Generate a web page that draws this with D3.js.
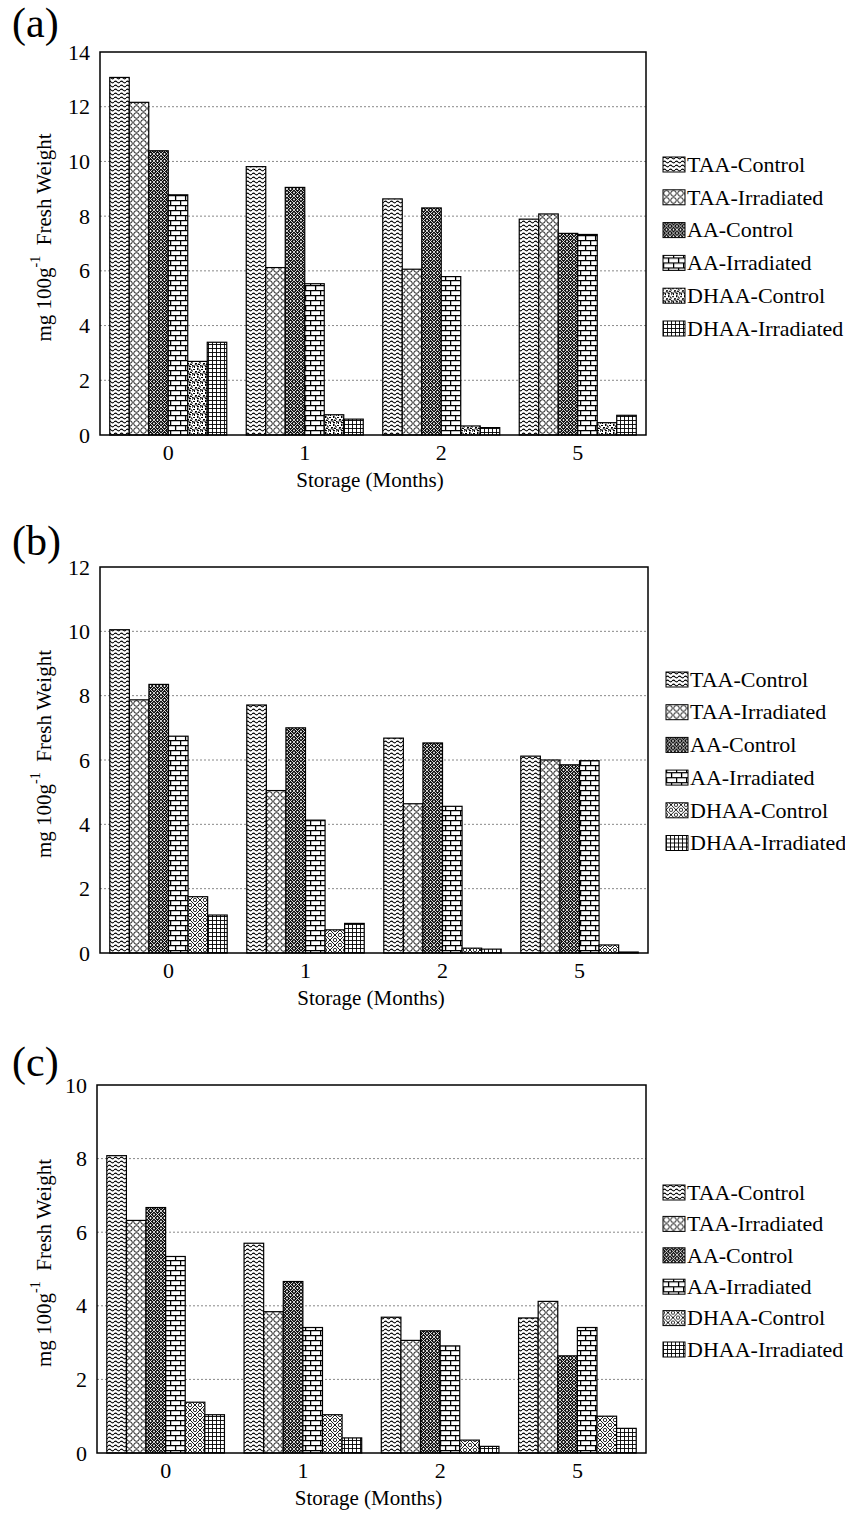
<!DOCTYPE html>
<html>
<head>
<meta charset="utf-8">
<script src="https://cdn.jsdelivr.net/npm/d3@7"></script>
<style>
  body { margin: 0; background: #fff; }
  svg text { font-family: "Liberation Serif", "Times New Roman", serif; fill: #000; }
</style>
</head>
<body>
<script>
// categories and series
const months = ["0", "1", "2", "5"];
const seriesNames = ["TAA-Control", "TAA-Irradiated", "AA-Control", "AA-Irradiated", "DHAA-Control", "DHAA-Irradiated"];

// tick labels of each panel
const ticksA = [0, 2, 4, 6, 8, 10, 12, 14];
const ticksB = [0, 2, 4, 6, 8, 10, 12];
const ticksC = [0, 2, 4, 6, 8, 10];

// panel (a) values, mg 100g-1
const aTAAControl = [13.07, 9.81, 8.63, 7.89];
const aTAAIrradiated = [12.16, 6.12, 6.06, 8.08];
const aAAControl = [10.39, 9.05, 8.30, 7.37];
const aAAIrradiated = [8.78, 5.53, 5.79, 7.33];
const aDHAAControl = [2.69, 0.74, 0.33, 0.45];
const aDHAAIrradiated = [3.39, 0.58, 0.27, 0.72];

// panel (b)
const bTAAControl = [10.05, 7.71, 6.68, 6.12];
const bTAAIrradiated = [7.87, 5.05, 4.64, 6.00];
const bAAControl = [8.35, 7.00, 6.53, 5.85];
const bAAIrradiated = [6.74, 4.13, 4.56, 5.98];
const bDHAAControl = [1.75, 0.72, 0.15, 0.25];
const bDHAAIrradiated = [1.18, 0.92, 0.12, 0.03];

// panel (c)
const cTAAControl = [8.08, 5.70, 3.69, 3.67];
const cTAAIrradiated = [6.32, 3.84, 3.06, 4.12];
const cAAControl = [6.67, 4.66, 3.32, 2.64];
const cAAIrradiated = [5.34, 3.41, 2.91, 3.41];
const cDHAAControl = [1.38, 1.04, 0.35, 1.00];
const cDHAAIrradiated = [1.04, 0.41, 0.18, 0.67];

const FONT = "Liberation Serif, Times New Roman, serif";

const svg = d3.select("body").append("svg")
  .attr("width", 845)
  .attr("height", 1534)
  .attr("viewBox", [0, 0, 845, 1534])
  .attr("font-family", FONT);

// fill patterns (black and white print style)
const defs = svg.append("defs");

function pattern(id, w, h, draw) {
  const p = defs.append("pattern")
    .attr("id", id)
    .attr("patternUnits", "userSpaceOnUse")
    .attr("width", w)
    .attr("height", h);
  p.append("rect").attr("width", w).attr("height", h).attr("fill", "#fff");
  draw(p);
}

pattern("wave", 6, 4, p => {
  p.append("path").attr("d", "M0,2 Q1.5,0.2 3,2 T6,2")
    .attr("fill", "none").attr("stroke", "#000").attr("stroke-width", 1.1);
});
pattern("circles", 7, 7, p => {
  p.append("circle").attr("cx", 3.5).attr("cy", 3.5).attr("r", 2.8)
    .attr("fill", "#fff").attr("stroke", "#000").attr("stroke-width", 0.9);
});
pattern("darkhatch", 7, 7, p => {
  p.select("rect").attr("fill", "#111");
  p.append("path").attr("d", "M0,0L7,7M7,0L0,7")
    .attr("stroke", "#fff").attr("stroke-width", 0.8);
  p.selectAll("circle").data([[0, 3.5], [7, 3.5], [3.5, 0], [3.5, 7]]).join("circle")
    .attr("cx", d => d[0]).attr("cy", d => d[1]).attr("r", 0.9).attr("fill", "#fff");
});
pattern("bricks", 10, 10, p => {
  p.append("path").attr("d", "M0,0.6H10M0,5.6H10M0.6,0.6V5.6M5.6,5.6V10.6")
    .attr("stroke", "#000").attr("stroke-width", 1.3).attr("fill", "none");
});
pattern("speckle", 8, 8, p => {
  p.append("path")
    .attr("d", "M1,1h2v1h-2zM5,0h1.5v2h-1.5zM3,3h2v1.5h-2zM0,5h1.5v1.5h-1.5zM6,4h2v1h-2zM2,6h1v2h-1zM5,6h2v1.2h-2zM0,2.5h1v1h-1zM7,1.5h1v1h-1z")
    .attr("fill", "#000");
  p.append("path").attr("d", "M0,8L3,4.5L5,6L8,2")
    .attr("stroke", "#000").attr("stroke-width", 0.7).attr("fill", "none");
});
pattern("lattice", 10, 10, p => {
  p.append("path").attr("d", "M0,0L10,10M10,0L0,10")
    .attr("stroke", "#000").attr("stroke-width", 0.9);
  p.selectAll("circle").data([[0, 5], [10, 5], [5, 0], [5, 10]]).join("circle")
    .attr("cx", d => d[0]).attr("cy", d => d[1]).attr("r", 1.7)
    .attr("fill", "none").attr("stroke", "#000").attr("stroke-width", 0.8);
});
pattern("grid", 4, 4, p => {
  p.append("path").attr("d", "M0,0.5H4M0.5,0V4")
    .attr("stroke", "#000").attr("stroke-width", 0.9);
});

function drawPanel(label, ticks, series, {
  left, right, top, bottom, labelY, legendX, legendTop, legendStep
}) {
  const g = svg.append("g");

  const x0 = d3.scaleBand().domain(months).range([left, right]).padding(0);
  const x1 = d3.scaleBand().domain(seriesNames)
    .range([0, x0.bandwidth()]).paddingInner(0).paddingOuter(0.5);
  const y = d3.scaleLinear().domain([0, d3.max(ticks)]).range([bottom, top]);

  // dotted gridlines
  g.append("g").selectAll("line")
    .data(ticks.filter(t => t > 0 && t < d3.max(ticks)))
    .join("line")
    .attr("x1", left).attr("x2", right)
    .attr("y1", d => y(d)).attr("y2", d => y(d))
    .attr("stroke", "#888").attr("stroke-width", 1)
    .attr("stroke-dasharray", "2,2");

  // bars
  g.append("g").selectAll("g")
    .data(series)
    .join("g")
    .attr("fill", d => `url(#${d.pattern})`)
    .selectAll("rect")
    .data(d => d.values.map((v, i) => ({ name: d.name, month: months[i], value: v })))
    .join("rect")
    .attr("x", d => x0(d.month) + x1(d.name))
    .attr("y", d => y(d.value))
    .attr("width", x1.bandwidth())
    .attr("height", d => y(0) - y(d.value))
    .attr("stroke", "#000")
    .attr("stroke-width", 1.2);

  // frame
  g.append("rect")
    .attr("x", left).attr("y", top)
    .attr("width", right - left).attr("height", bottom - top)
    .attr("fill", "none").attr("stroke", "#000").attr("stroke-width", 1.5);

  // axes
  g.append("g")
    .attr("transform", `translate(${left},0)`)
    .call(d3.axisLeft(y).tickValues(ticks).tickFormat(d3.format("d")).tickSize(0).tickPadding(10))
    .attr("font-family", FONT)
    .attr("font-size", 22)
    .call(a => a.select(".domain").remove());

  g.append("g")
    .attr("transform", `translate(0,${bottom})`)
    .call(d3.axisBottom(x0).tickSize(0).tickPadding(9))
    .attr("font-family", FONT)
    .attr("font-size", 22)
    .call(a => a.select(".domain").remove());

  g.append("text")
    .attr("x", (left + right) / 2 - 3)
    .attr("y", bottom + 52)
    .attr("text-anchor", "middle")
    .attr("font-size", 21)
    .text("Storage (Months)");

  // y title with superscript
  const yt = g.append("text")
    .attr("transform", `translate(51,${(top + bottom) / 2 - 6}) rotate(-90)`)
    .attr("text-anchor", "middle")
    .attr("font-size", 21);
  yt.append("tspan").text("mg 100g");
  yt.append("tspan").attr("font-size", 14).attr("dy", -11).text("-1");
  yt.append("tspan").attr("dy", 11).text("\u00a0 Fresh Weight");

  // panel label
  g.append("text")
    .attr("x", 12)
    .attr("y", labelY)
    .attr("font-size", 42)
    .text(label);

  // legend
  const lg = g.append("g").selectAll("g")
    .data(series)
    .join("g")
    .attr("transform", (d, i) => `translate(${legendX},${legendTop + i * legendStep})`);
  lg.append("rect")
    .attr("x", 0).attr("y", -7)
    .attr("width", 22).attr("height", 15)
    .attr("fill", d => `url(#${d.pattern})`)
    .attr("stroke", "#000").attr("stroke-width", 1);
  lg.append("text")
    .attr("x", 24)
    .attr("y", 0)
    .attr("dy", "0.35em")
    .attr("font-size", 22)
    .text(d => d.name);
}

drawPanel("(a)", ticksA, [
  { name: seriesNames[0], values: aTAAControl, pattern: "wave" },
  { name: seriesNames[1], values: aTAAIrradiated, pattern: "circles" },
  { name: seriesNames[2], values: aAAControl, pattern: "darkhatch" },
  { name: seriesNames[3], values: aAAIrradiated, pattern: "bricks" },
  { name: seriesNames[4], values: aDHAAControl, pattern: "speckle" },
  { name: seriesNames[5], values: aDHAAIrradiated, pattern: "grid" }
], { left: 100, right: 646, top: 52, bottom: 435, labelY: 37, legendX: 663, legendTop: 164, legendStep: 32.8 });

drawPanel("(b)", ticksB, [
  { name: seriesNames[0], values: bTAAControl, pattern: "wave" },
  { name: seriesNames[1], values: bTAAIrradiated, pattern: "circles" },
  { name: seriesNames[2], values: bAAControl, pattern: "darkhatch" },
  { name: seriesNames[3], values: bAAIrradiated, pattern: "bricks" },
  { name: seriesNames[4], values: bDHAAControl, pattern: "lattice" },
  { name: seriesNames[5], values: bDHAAIrradiated, pattern: "grid" }
], { left: 100, right: 648, top: 567, bottom: 953, labelY: 555, legendX: 666, legendTop: 679, legendStep: 32.7 });

drawPanel("(c)", ticksC, [
  { name: seriesNames[0], values: cTAAControl, pattern: "wave" },
  { name: seriesNames[1], values: cTAAIrradiated, pattern: "circles" },
  { name: seriesNames[2], values: cAAControl, pattern: "darkhatch" },
  { name: seriesNames[3], values: cAAIrradiated, pattern: "bricks" },
  { name: seriesNames[4], values: cDHAAControl, pattern: "lattice" },
  { name: seriesNames[5], values: cDHAAIrradiated, pattern: "grid" }
], { left: 97, right: 646, top: 1085, bottom: 1453, labelY: 1076, legendX: 663, legendTop: 1192, legendStep: 31.4 });
</script>
</body>
</html>
